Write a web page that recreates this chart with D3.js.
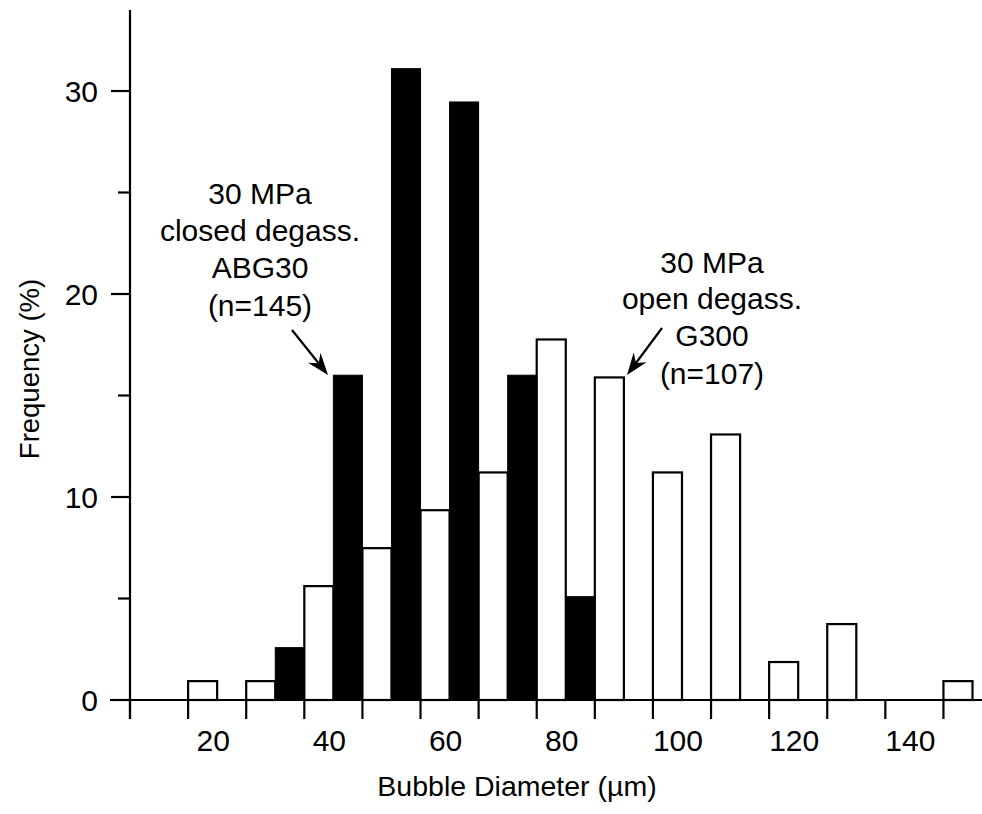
<!DOCTYPE html>
<html>
<head>
<meta charset="utf-8">
<script src="https://cdn.jsdelivr.net/npm/d3@7"></script>
<style>
  html, body { margin: 0; padding: 0; background: #fff; }
  svg { display: block; }
  text { font-family: "Liberation Sans", Arial, sans-serif; fill: #000; }
</style>
</head>
<body>
<svg id="chart" width="982" height="814"></svg>
<script>
// ---- data ----
const openBinStarts = [15, 25, 35, 45, 55, 65, 75, 85, 95, 105, 115, 125, 145];
const openValues    = [0.93, 0.93, 5.61, 7.48, 9.35, 11.21, 17.76, 15.89, 11.21, 13.08, 1.87, 3.74, 0.93];
const closedBinStarts = [30, 40, 50, 60, 70, 80];
const closedValues    = [2.58, 16.0, 31.1, 29.46, 16.0, 5.09];
const binWidth = 5;
const xTickValues = [5, 15, 25, 35, 45, 55, 65, 75, 85, 95, 105, 115, 125, 135, 145];
const xLabelValues = [20, 40, 60, 80, 100, 120, 140];
const yMajorTicks = [0, 10, 20, 30];
const yMinorTicks = [5, 15, 25];
const closedLabel = ["30 MPa", "closed degass.", "ABG30", "(n=145)"];
const openLabel = ["30 MPa", "open degass.", "G300", "(n=107)"];
const xTitle = "Bubble Diameter (\u00B5m)";
const yTitle = "Frequency (%)";

// ---- scales ----
const svg = d3.select("#chart");
const x = d3.scaleLinear().domain([5, 150]).range([130, 972.5]);
const y = d3.scaleLinear().domain([0, 30]).range([700, 91]);

// ---- bars ----
const openData = openBinStarts.map((s, i) => ({ s, v: openValues[i] }));
const closedData = closedBinStarts.map((s, i) => ({ s, v: closedValues[i] }));

svg.append("g").selectAll("rect").data(openData).join("rect")
  .attr("x", d => x(d.s))
  .attr("width", d => x(d.s + binWidth) - x(d.s))
  .attr("y", d => y(d.v))
  .attr("height", d => y(0) - y(d.v))
  .attr("fill", "#fff").attr("stroke", "#000").attr("stroke-width", 2.2);

svg.append("g").selectAll("rect").data(closedData).join("rect")
  .attr("x", d => x(d.s))
  .attr("width", d => x(d.s + binWidth) - x(d.s))
  .attr("y", d => y(d.v))
  .attr("height", d => y(0) - y(d.v))
  .attr("fill", "#000").attr("stroke", "#000").attr("stroke-width", 1);

// ---- axes ----
const axisG = svg.append("g").attr("stroke", "#000").attr("stroke-width", 2.2);
axisG.append("line").attr("x1", 110).attr("x2", 982).attr("y1", y(0)).attr("y2", y(0));
axisG.append("line").attr("x1", x(5)).attr("x2", x(5)).attr("y1", 10).attr("y2", 719);
axisG.selectAll(".xt").data(xTickValues).join("line")
  .attr("x1", d => x(d)).attr("x2", d => x(d))
  .attr("y1", y(0)).attr("y2", y(0) + 19);
axisG.selectAll(".ymaj").data(yMajorTicks).join("line").attr("class", "ymaj")
  .attr("x1", x(5) - 19).attr("x2", x(5))
  .attr("y1", d => y(d)).attr("y2", d => y(d));
axisG.selectAll(".ymin").data(yMinorTicks).join("line").attr("class", "ymin")
  .attr("x1", x(5) - 12).attr("x2", x(5))
  .attr("y1", d => y(d)).attr("y2", d => y(d));

// tick labels
svg.append("g").selectAll("text").data(xLabelValues).join("text")
  .attr("x", d => x(d) - 4).attr("y", 751)
  .attr("text-anchor", "middle").attr("font-size", 30)
  .text(d => d);
svg.append("g").selectAll("text").data(yMajorTicks).join("text")
  .attr("x", 98).attr("y", d => y(d) + 10.5)
  .attr("text-anchor", "end").attr("font-size", 30)
  .text(d => d);

// axis titles
svg.append("text").attr("x", 517).attr("y", 796)
  .attr("text-anchor", "middle").attr("font-size", 28.5).text(xTitle);
svg.append("text").attr("transform", "translate(39,369) rotate(-90)")
  .attr("text-anchor", "middle").attr("font-size", 27.5).text(yTitle);

// annotations
function annot(lines, cx, ys) {
  const g = svg.append("g");
  g.selectAll("text").data(lines).join("text")
    .attr("x", cx).attr("y", (d, i) => ys[i] + 11)
    .attr("text-anchor", "middle").attr("font-size", 30)
    .text(d => d);
}
annot(closedLabel, 260, [193, 230, 267, 305]);
annot(openLabel, 712, [262, 298, 335, 373]);

function arrow(x1, y1, x2, y2) {
  const ang = Math.atan2(y2 - y1, x2 - x1);
  const L = 22, W = 8, back = 15;
  const bx = x2 - back * Math.cos(ang), by = y2 - back * Math.sin(ang);
  svg.append("line").attr("x1", x1).attr("y1", y1).attr("x2", bx).attr("y2", by)
    .attr("stroke", "#000").attr("stroke-width", 2.2);
  const px = -Math.sin(ang), py = Math.cos(ang);
  const ex = x2 - L * Math.cos(ang), ey = y2 - L * Math.sin(ang);
  const p = [[x2, y2], [ex + W * px, ey + W * py], [bx, by], [ex - W * px, ey - W * py]];
  svg.append("path").attr("d", "M" + p.map(q => q.join(",")).join("L") + "Z").attr("fill", "#000");
}
arrow(292, 330, 328, 375);
arrow(662, 328, 627, 375);
</script>
</body>
</html>
